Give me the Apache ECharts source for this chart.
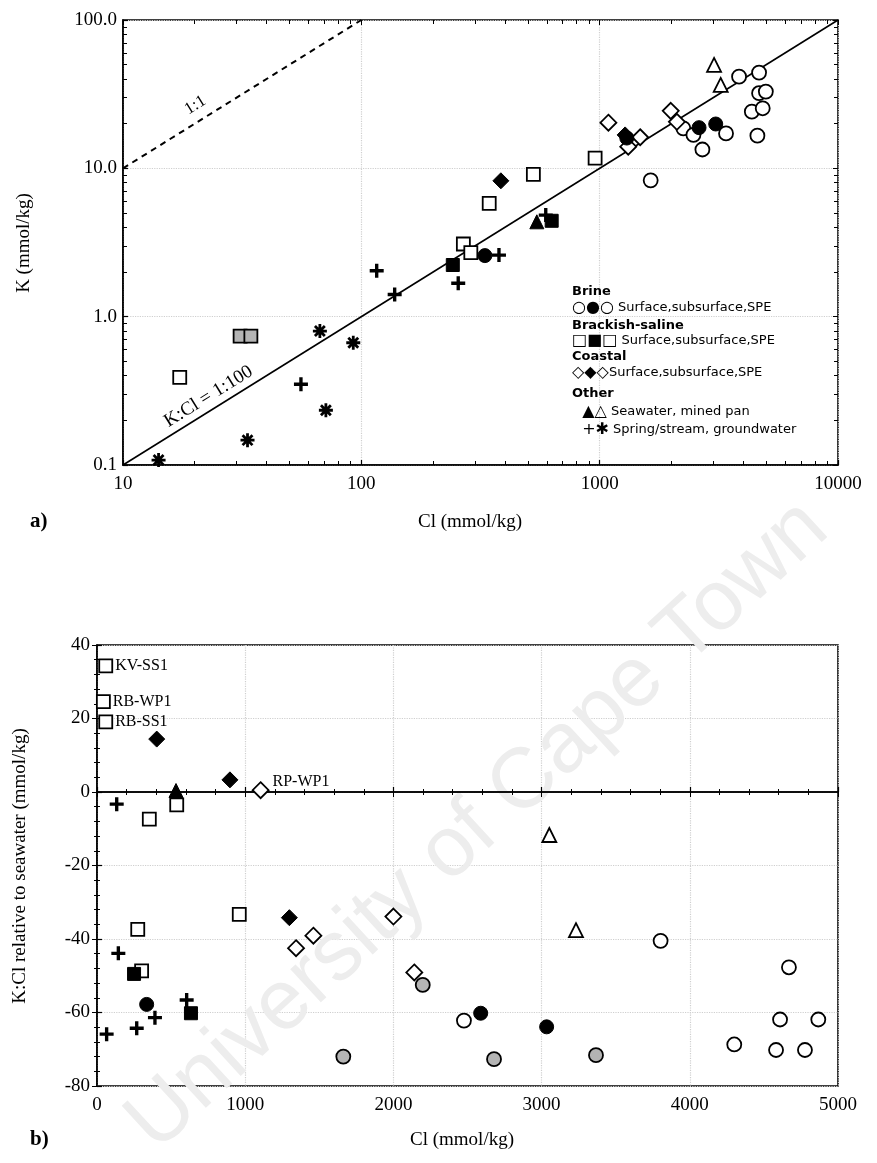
<!DOCTYPE html>
<html><head><meta charset="utf-8">
<script src="https://cdn.jsdelivr.net/npm/echarts@6/dist/echarts.min.js"></script>
<style>html,body{margin:0;padding:0;background:#fff}#c{width:877px;height:1163px}</style>
</head><body><div id="c"></div>
<script>
// ---------- Panel a) K vs Cl (log-log) ----------
const aBrineSurface = [[1637,8.3],[2244,18.6],[2474,16.8],[2698,13.4],[3390,17.2],[3845,41.5],[4665,44.2],[4665,32.1],[4980,32.9],[4350,24.1],[4832,25.4],[4590,16.6]];
const aBrineSub = [[330,2.58],[1300,16.0],[2612,18.8],[3069,19.9]];
const aBrackishSurface = [[17.3,0.39],[268,3.09],[288,2.70],[344,5.8],[527,9.1],[957,11.7]];
const aBrackishSub = [[242,2.23],[629,4.43]];
const aBrackishSPE = [[31,0.74],[34.4,0.74]];
const aCoastalSurface = [[1088,20.3],[1318,14.0],[1479,16.2],[1987,24.4],[2109,20.6]];
const aCoastalSub = [[385,8.24],[1279,16.8]];
const aSeawater = [[545,4.36]];
const aMinedPan = [[3020,49.8],[3220,36.5]];
const aSpring = [[55.8,0.35],[116,2.04],[138,1.41],[255,1.68],[378,2.60],[594,4.84]];
const aGroundwater = [[14.1,0.108],[33.3,0.147],[67,0.80],[71,0.234],[92.5,0.667]];
const aRatio100 = [[10,0.1],[10000,100]];   // K:Cl = 1:100
const aRatio1 = [[10,10],[100,100]];        // 1:1

// ---------- Panel b) K:Cl relative to seawater ----------
const bBrineSurface = [[2476,-62.2],[3803,-40.5],[4669,-47.7],[4609,-61.9],[4867,-61.9],[4300,-68.7],[4582,-70.2],[4777,-70.2]];
const bBrineSub = [[335,-57.8],[2589,-60.2],[3034,-63.9]];
const bBrineSPE = [[1662,-72.0],[2198,-52.5],[2679,-72.7],[3367,-71.6]];
const bBrackishSurface = [[59,34.3],[43,24.6],[59,19.1],[538,-3.5],[353,-7.4],[960,-33.3],[275,-37.4],[301,-48.7]];
const bBrackishSurfaceNames = ['KV-SS1','RB-WP1','RB-SS1','','','','',''];
const bBrackishSub = [[250,-49.5],[634,-60.2]];
const bCoastalSurface = [[1104,0.5],[1343,-42.5],[1460,-39.1],[2000,-33.9],[2141,-49.1]];
const bCoastalSurfaceNames = ['RP-WP1','','','',''];
const bCoastalSub = [[403,14.4],[897,3.3],[1298,-34.2]];
const bSeawater = [[533,0.4]];
const bMinedPan = [[3052,-11.7],[3232,-37.6]];
const bSpring = [[133,-3.3],[144,-43.9],[391,-61.4],[268,-64.3],[65,-65.9],[605,-56.6]];
const bZero = [[0,0],[5000,0]];

const SERIF = 'Liberation Serif';
const SANS = 'DejaVu Sans';

const PLUS = 'path://M-1.2,-5 L1.2,-5 L1.2,-1.2 L5,-1.2 L5,1.2 L1.2,1.2 L1.2,5 L-1.2,5 L-1.2,1.2 L-5,1.2 L-5,-1.2 L-1.2,-1.2 Z';
const STAR = 'path://M-1,-5 L1,-5 L1,5 L-1,5 Z M-5,-1 L5,-1 L5,1 L-5,1 Z M2.83,4.24 L-4.24,-2.83 L-2.83,-4.24 L4.24,2.83 Z M-2.83,4.24 L-4.24,2.83 L2.83,-4.24 L4.24,-2.83 Z';

const open = {color:'#fff', borderColor:'#000', borderWidth:1.8, opacity:1};
const filled = {color:'#000', borderColor:'#000', borderWidth:1, opacity:1};
const grey = {color:'#b4b4b4', borderColor:'#000', borderWidth:1.8, opacity:1};
const black = {color:'#000', opacity:1};

function sc(name, data, grid, symbol, size, style, z){
  return {name, type:'scatter', xAxisIndex:grid*2, yAxisIndex:grid*2, data, symbol, symbolSize:size,
    itemStyle:style, z:z||3, animation:false, silent:true};
}

function axisCommon(){
  return {
    axisLine:{show:true, lineStyle:{color:'#000', width:1.6}},
    axisTick:{show:true, inside:true, length:5, lineStyle:{color:'#000', width:1.2}},
    minorTick:{show:true, splitNumber:5, length:3, lineStyle:{color:'#000', width:1}},
    axisLabel:{color:'#000', fontFamily:SERIF, fontSize:19},
  };
}

const labelFmt = names => (p => names[p.dataIndex] || '');

const series = [
  // panel a
  {type:'line', xAxisIndex:0, yAxisIndex:0, data:aRatio100, showSymbol:false, lineStyle:{color:'#000', width:1.6}, z:2, animation:false, silent:true},
  {type:'line', xAxisIndex:0, yAxisIndex:0, data:aRatio1, showSymbol:false, lineStyle:{color:'#000', width:2, type:[6,5]}, z:2, animation:false, silent:true},
  sc('a brine surface', aBrineSurface, 0, 'circle', 14, open),
  sc('a brine sub', aBrineSub, 0, 'circle', 14, filled, 4),
  sc('a brackish surface', aBrackishSurface, 0, 'rect', 13, open),
  sc('a brackish sub', aBrackishSub, 0, 'rect', 13, filled),
  sc('a brackish spe', aBrackishSPE, 0, 'rect', 13, grey),
  sc('a coastal surface', aCoastalSurface, 0, 'diamond', 16, open),
  sc('a coastal sub', aCoastalSub, 0, 'diamond', 16, filled, 4),
  sc('a seawater', aSeawater, 0, 'triangle', 14, filled),
  sc('a mined pan', aMinedPan, 0, 'triangle', 14, open),
  sc('a spring', aSpring, 0, PLUS, 14, black),
  sc('a groundwater', aGroundwater, 0, STAR, 14, black),
  // panel b
  {type:'line', xAxisIndex:2, yAxisIndex:2, data:bZero, showSymbol:false, lineStyle:{color:'#000', width:1.6}, z:2, animation:false, silent:true},
  sc('b brine surface', bBrineSurface, 1, 'circle', 14, open),
  sc('b brine sub', bBrineSub, 1, 'circle', 14, filled),
  sc('b brine spe', bBrineSPE, 1, 'circle', 14, grey),
  Object.assign(sc('b brackish surface', bBrackishSurface, 1, 'rect', 13, open), {
    label:{show:true, position:'right', distance:2, formatter:labelFmt(bBrackishSurfaceNames), color:'#000', opacity:1, fontFamily:SERIF, fontSize:16}}),
  sc('b brackish sub', bBrackishSub, 1, 'rect', 13, filled),
  Object.assign(sc('b coastal surface', bCoastalSurface, 1, 'diamond', 16, open), {
    label:{show:true, position:'right', distance:3, offset:[0,-8], formatter:labelFmt(bCoastalSurfaceNames), color:'#000', opacity:1, fontFamily:SERIF, fontSize:16}}),
  sc('b coastal sub', bCoastalSub, 1, 'diamond', 16, filled),
  sc('b seawater', bSeawater, 1, 'triangle', 14, filled),
  sc('b mined pan', bMinedPan, 1, 'triangle', 14, open),
  sc('b spring', bSpring, 1, PLUS, 14, black),
];

const gridLine = {show:true, lineStyle:{color:'#cfcfcf', width:1.2, type:'dotted'}};

const option = {
  backgroundColor:'#fff',
  animation:false,
  grid:[
    {left:123, top:20, width:715, height:445, show:true, borderColor:'#000', borderWidth:1.6, containLabel:false},
    {left:97, top:645, width:741, height:441, show:true, borderColor:'#000', borderWidth:1.6, containLabel:false}
  ],
  xAxis:[
    Object.assign(axisCommon(), {gridIndex:0, type:'log', logBase:10, min:10, max:10000, position:'bottom',
      splitLine:gridLine, minorTick:{show:true, splitNumber:9, length:4, lineStyle:{color:'#000'}},
      axisLabel:{color:'#000', fontFamily:SERIF, fontSize:19, margin:10, formatter:v=>String(Math.round(v))}}),
    {gridIndex:0, type:'log', logBase:10, min:10, max:10000, position:'top',
      axisLine:{show:false}, axisLabel:{show:false}, splitLine:{show:false},
      axisTick:{show:true, inside:true, length:5, lineStyle:{color:'#000'}},
      minorTick:{show:true, splitNumber:9, length:4, lineStyle:{color:'#000'}}},
    Object.assign(axisCommon(), {gridIndex:1, type:'value', min:0, max:5000, interval:1000, position:'bottom',
      splitLine:gridLine, axisLabel:{color:'#000', fontFamily:SERIF, fontSize:19, margin:10, formatter:v=>String(v)}}),
    {gridIndex:1, type:'value', min:0, max:5000, interval:1000, position:'top',
      axisLine:{show:false}, axisLabel:{show:false}, splitLine:{show:false},
      axisTick:{show:true, inside:true, length:5, lineStyle:{color:'#000'}},
      minorTick:{show:true, splitNumber:5, length:3, lineStyle:{color:'#000'}}}
  ],
  yAxis:[
    Object.assign(axisCommon(), {gridIndex:0, type:'log', logBase:10, min:0.1, max:100, position:'left',
      splitLine:gridLine, minorTick:{show:true, splitNumber:9, length:4, lineStyle:{color:'#000'}},
      axisLabel:{color:'#000', fontFamily:SERIF, fontSize:19, margin:6, formatter:v=>Number(v).toFixed(1)}}),
    {gridIndex:0, type:'log', logBase:10, min:0.1, max:100, position:'right',
      axisLine:{show:false}, axisLabel:{show:false}, splitLine:{show:false},
      axisTick:{show:true, inside:true, length:5, lineStyle:{color:'#000'}},
      minorTick:{show:true, splitNumber:9, length:4, lineStyle:{color:'#000'}}},
    Object.assign(axisCommon(), {gridIndex:1, type:'value', min:-80, max:40, interval:20, position:'left',
      splitLine:gridLine, axisLabel:{color:'#000', fontFamily:SERIF, fontSize:19, margin:7}}),
    {gridIndex:1, type:'value', min:-80, max:40, interval:20, position:'right',
      axisLine:{show:false}, axisLabel:{show:false}, splitLine:{show:false},
      axisTick:{show:true, inside:true, length:5, lineStyle:{color:'#000'}},
      minorTick:{show:true, splitNumber:5, length:3, lineStyle:{color:'#000'}}}
  ],
  series
};

const chart = echarts.init(document.getElementById('c'), null, {renderer:'canvas'});
chart.setOption(option);

// annotations placed through the axes' scales
const p1 = chart.convertToPixel({gridIndex:0}, [21, 21]);
const p100 = chart.convertToPixel({gridIndex:0}, [24, 0.24]);
const ang = Math.atan2(148.3, 238.3);

function txt(x, y, text, opt){
  return {type:'text', x, y, z:10, style:Object.assign({text, fill:'#000', fontFamily:SERIF, fontSize:19, align:'center', verticalAlign:'middle'}, opt||{})};
}
const legendX = 572;
const legendItems = [
  {h:'Brine', y:292},
  {s:'○●○', t:' Surface,subsurface,SPE', y:308},
  {h:'Brackish-saline', y:326},
  {s:'□■□', t:' Surface,subsurface,SPE', y:341},
  {h:'Coastal', y:357},
  {s:'◇◆◇', t:'Surface,subsurface,SPE', y:373},
  {h:'Other', y:394},
  {s:'  ▲△', t:' Seawater, mined pan', y:412},
  {s:'  +✱', t:' Spring/stream, groundwater', y:430},
];

chart.setOption({graphic:[
  // watermark
  {type:'text', x:478, y:826, rotation:0.743, z:0, silent:true,
    style:{text:'University of Cape Town', fill:'#ededed', fontFamily:'Liberation Sans', fontSize:85, align:'center', verticalAlign:'middle'}},
  {type:'text', x:p1[0], y:p1[1]-8, rotation:ang, z:10, style:{text:'1:1', fill:'#000', fontFamily:SERIF, fontSize:17, align:'center', verticalAlign:'bottom'}},
  {type:'text', x:p100[0], y:p100[1]-4, rotation:ang, z:10, style:{text:'K:Cl = 1:100', fill:'#000', fontFamily:SERIF, fontSize:19, align:'center', verticalAlign:'bottom'}},
  ...legendItems.map(it => ({type:'text', x:legendX, y:it.y, z:10,
    style: it.h ? {text:it.h, fill:'#000', fontFamily:SANS, fontSize:13, fontWeight:'bold', align:'left', verticalAlign:'middle'}
      : {text:'{s|'+it.s+'}{t|'+it.t+'}', align:'left', verticalAlign:'middle',
         rich:{s:{fill:'#000', fontFamily:SANS, fontSize:16}, t:{fill:'#000', fontFamily:SANS, fontSize:13}}}})),
  txt(470, 522, 'Cl (mmol/kg)'),
  txt(462, 1140, 'Cl (mmol/kg)'),
  Object.assign(txt(24, 243, 'K (mmol/kg)'), {rotation:Math.PI/2}),
  Object.assign(txt(20, 866, 'K:Cl relative to seawater (mmol/kg)'), {rotation:Math.PI/2}),
  txt(30, 522, 'a)', {fontWeight:'bold', fontSize:21, align:'left'}),
  txt(30, 1140, 'b)', {fontWeight:'bold', fontSize:21, align:'left'})
]});
</script>
</body></html>
